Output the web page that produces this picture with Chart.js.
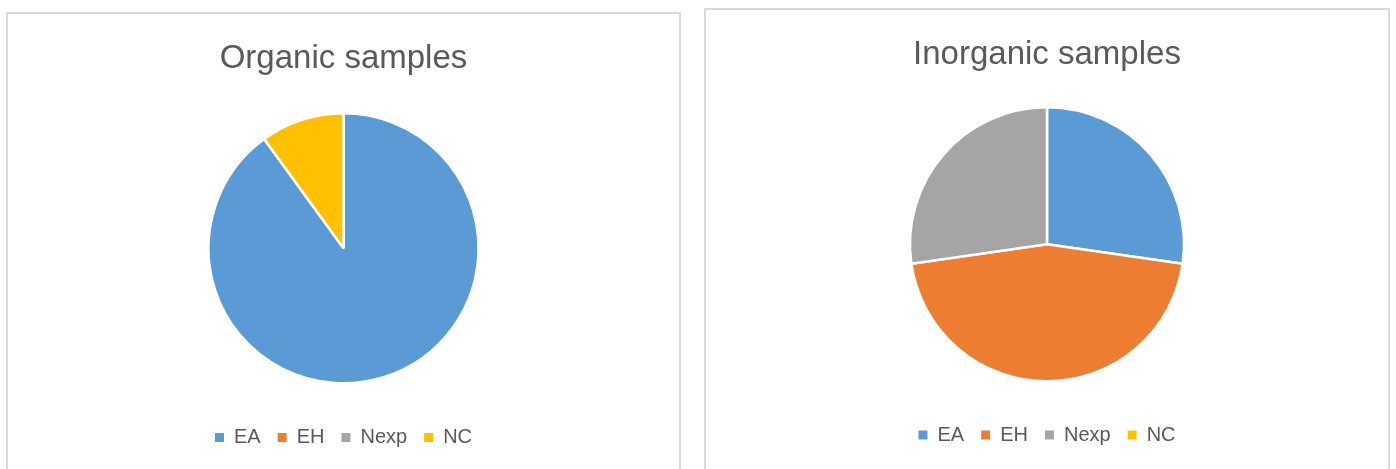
<!DOCTYPE html>
<html>
<head>
<meta charset="utf-8">
<script src="https://cdn.jsdelivr.net/npm/chart.js@4/dist/chart.umd.min.js"></script>
<style>
  body { margin: 0; background: #fff; width: 1396px; height: 469px; overflow: hidden; position: relative; }
  .panel { position: absolute; border: 2px solid #d9d9d9; background: #fff; box-sizing: border-box; }
  .panel canvas { display: block; }
</style>
</head>
<body>
<div class="panel" id="leftPanel" style="left:6px; top:12px; width:675px; height:470px;">
  <canvas id="organicChart"></canvas>
</div>
<div class="panel" id="rightPanel" style="left:704px; top:8px; width:686px; height:474px;">
  <canvas id="inorganicChart"></canvas>
</div>
<script>
// categories and values
const categories = ['EA', 'EH', 'Nexp', 'NC'];
const organicValues = [9, 0, 0, 1];
const inorganicValues = [3, 5, 3, 0];
const sliceColors = ['#5B9BD5', '#ED7D31', '#A5A5A5', '#FFC000'];

Chart.defaults.font.family = '"Liberation Sans", Arial, sans-serif';
Chart.defaults.color = '#595959';

// legend squares without the white slice border
function legendLabels(chart) {
    const items = Chart.overrides.pie.plugins.legend.labels.generateLabels(chart);
    return items.map(function(item) {
        item.lineWidth = 0;
        item.strokeStyle = item.fillStyle;
        item.hidden = false;
        return item;
    });
}

function makePie(canvasId, width, height, title, values, radius, titleTop, titleBottom, padBottom) {
    const canvas = document.getElementById(canvasId);
    canvas.width = width;
    canvas.height = height;
    canvas.style.width = width + 'px';
    canvas.style.height = height + 'px';
    return new Chart(canvas.getContext('2d'), {
        type: 'pie',
        data: {
            labels: categories,
            datasets: [{
                data: values,
                backgroundColor: sliceColors,
                borderColor: '#ffffff',
                borderWidth: 2.5
            }]
        },
        options: {
            responsive: false,
            animation: false,
            events: [],
            radius: radius,
            layout: { padding: { bottom: padBottom } },
            plugins: {
                tooltip: { enabled: false },
                title: {
                    display: true,
                    text: title,
                    color: '#595959',
                    font: { size: 33, weight: 'normal' },
                    padding: { top: titleTop, bottom: titleBottom }
                },
                legend: {
                    position: 'bottom',
                    labels: {
                        boxWidth: 9,
                        boxHeight: 9,
                        padding: 17,
                        color: '#595959',
                        font: { size: 20 },
                        generateLabels: legendLabels
                    }
                }
            }
        }
    });
}

makePie('organicChart', 671, 466, 'Organic samples', organicValues, 135, 25, 7.5, 22.5);
makePie('inorganicChart', 682, 470, 'Inorganic samples', inorganicValues, 137, 25, 6, 25);
</script>
</body>
</html>
